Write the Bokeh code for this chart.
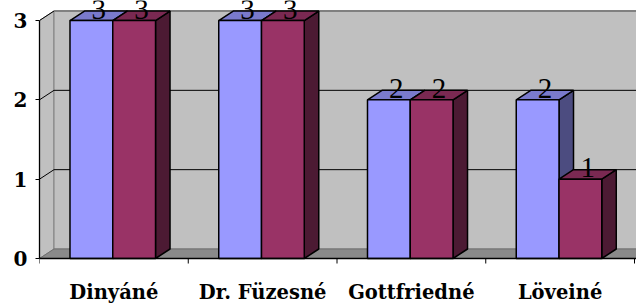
from bokeh.plotting import figure
from bokeh.models import Range1d, FixedTicker, LinearAxis
from bokeh.embed import file_html
from bokeh.resources import INLINE
from bokeh.core.properties import value

# ---- data ----
categories = ["Dinyáné", "Dr. Füzesné", "Gottfriedné", "Löveiné"]
series1 = [3, 3, 2, 2]
series2 = [3, 3, 2, 1]
y_ticks = [0, 1, 2, 3]
y_max = 3

# ---- layout / scale ----
W, H = 636, 305
border_left = 39
axis_px = 258            # pixel row of value 0
cat_px = 148.75          # pixels per category
unit_px = 79.33          # pixels per value unit
x_end = (W - border_left) / cat_px
y_start = -(H - axis_px) / unit_px
y_end = axis_px / unit_px
DX = 14.5 / cat_px       # 3D depth offset (data units)
DY = 9.5 / unit_px
bar_w = 0.2875
pair_start = 0.205
val_label_shift = 11.5 / unit_px
cat_label_y = -33.5 / unit_px
tick_len = 5 / unit_px

front_cols = ["#9999FF", "#993366"]
top_cols = ["#7A7ACC", "#7A2952"]
side_cols = ["#4C4C80", "#4C1A33"]

p = figure(width=W, height=H, x_range=Range1d(0, x_end), y_range=Range1d(y_start, y_end),
           output_backend="svg", toolbar_location=None,
           x_axis_type=None, y_axis_type=None,
           min_border_left=border_left, min_border_bottom=0,
           min_border_top=0, min_border_right=0)
p.outline_line_color = None
p.background_fill_color = "white"
p.border_fill_color = "white"

n = len(categories)
xr = x_end + 0.2

# side wall
p.patch([0, 0, DX, DX], [0, y_max, y_max + DY, DY], fill_color="#C0C0C0",
        line_color="#808080", line_width=1)
# back wall
p.patch([DX, xr, xr, DX], [DY, DY, y_max + DY, y_max + DY], fill_color="#C0C0C0",
        line_color="#808080", line_width=1)
p.line([DX, xr], [y_max + DY, y_max + DY], line_color="#808080", line_width=2)
# floor
p.patch([0, xr, xr, DX], [0, 0, DY, DY], fill_color="#8A8A8A",
        line_color="#707070", line_width=1)

# gridlines
gx, gy = [], []
for v in y_ticks[1:]:
    if v < y_max:
        gx.append([DX, xr]); gy.append([v + DY, v + DY])
    gx.append([0, DX]); gy.append([v, v + DY])
p.multi_line(gx, gy, line_color="black", line_width=1)

# bars
xs, ys, fills = [], [], []
lx, ly, lt = [], [], []
for i in range(n):
    for s, vals in enumerate([series1, series2]):
        v = vals[i]
        x0 = i + pair_start + s * bar_w
        x1 = x0 + bar_w
        xs.append([x1, x1, x1 + DX, x1 + DX]); ys.append([0, v, v + DY, DY]); fills.append(side_cols[s])
        xs.append([x0, x1, x1 + DX, x0 + DX]); ys.append([v, v, v + DY, v + DY]); fills.append(top_cols[s])
        xs.append([x0, x1, x1, x0]); ys.append([0, 0, v, v]); fills.append(front_cols[s])
        lx.append((x0 + x1) / 2 + DX / 2); ly.append(v + val_label_shift); lt.append(str(v))

p.patches(xs=xs, ys=ys, fill_color=fills, line_color="black", line_width=1.5)

p.text(x=lx, y=ly, text=lt, text_align="center", text_baseline="alphabetic",
       text_font=value("Liberation Serif"), text_font_size="29px", text_color="black")

# x axis (category axis along the front edge of the floor)
p.line([0, x_end], [0, 0], line_color="black", line_width=1.3)
p.multi_line([[i, i] for i in range(n + 1)], [[0, -tick_len]] * (n + 1),
             line_color="black", line_width=1)
p.text(x=[i + 0.5 for i in range(n)], y=[cat_label_y] * n, text=categories,
       text_align="center", text_baseline="alphabetic",
       text_font=value("DejaVu Serif"), text_font_style="bold",
       text_font_size="19.5px", text_color="black")

# y axis
yaxis = LinearAxis(ticker=FixedTicker(ticks=y_ticks), bounds=(0, y_max),
                   major_tick_out=4, major_tick_in=0, minor_tick_out=0, minor_tick_in=0,
                   major_label_standoff=8,
                   major_label_text_font="DejaVu Serif",
                   major_label_text_font_style="bold",
                   major_label_text_font_size="20px",
                   major_label_text_color="black",
                   axis_line_color="black", axis_line_width=1.3,
                   major_tick_line_color="black")
p.add_layout(yaxis, "left")

open("out.html", "w").write(file_html(p, INLINE))
